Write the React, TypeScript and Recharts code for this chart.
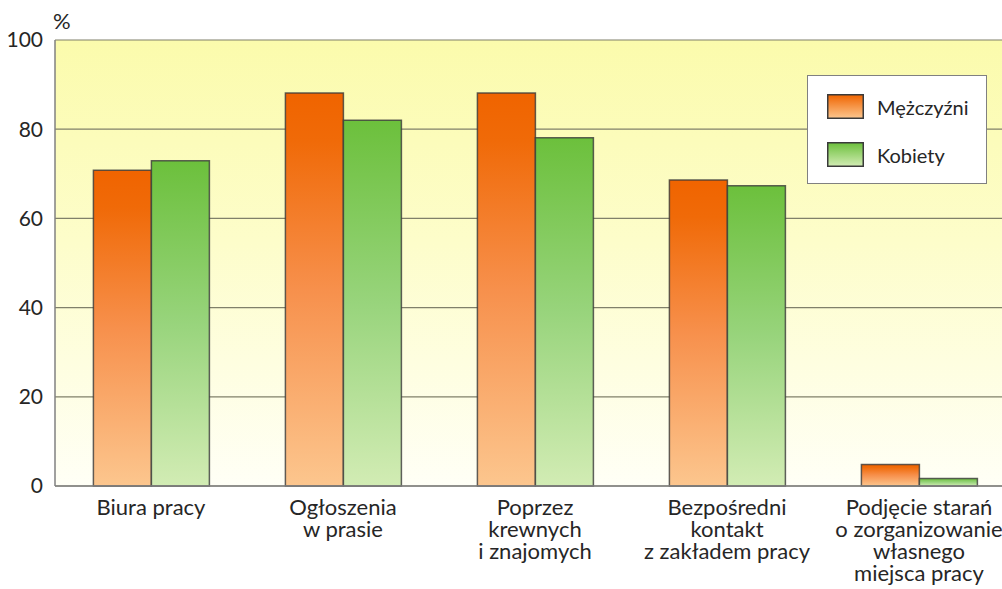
import React from 'react';
import { Bar, BarChart, CartesianGrid, XAxis, YAxis } from 'recharts';

// categories (x-axis labels, split into lines)
const categories = [
  ['Biura pracy'],
  ['Ogłoszenia', 'w prasie'],
  ['Poprzez', 'krewnych', 'i znajomych'],
  ['Bezpośredni', 'kontakt', 'z zakładem pracy'],
  ['Podjęcie starań', 'o zorganizowanie', 'własnego', 'miejsca pracy'],
];

const men = [70.8, 88.1, 88.1, 68.6, 4.8];
const women = [72.9, 82.0, 78.1, 67.3, 1.7];

const yTicks = [0, 20, 40, 60, 80, 100];

const series = [
  { key: 'men', name: 'Mężczyźni', grad: 'menGrad' },
  { key: 'women', name: 'Kobiety', grad: 'womenGrad' },
];

const data = categories.map((lines, i) => ({
  label: lines.join('\n'),
  men: men[i],
  women: women[i],
}));

const FONT = 'Lato, "Open Sans", sans-serif';
const TEXT = '#262626';

function CategoryTick(props: any) {
  const { x, y, payload } = props;
  const lines = String(payload.value).split('\n');
  return (
    <text
      x={x}
      y={y + 21}
      textAnchor="middle"
      fill={TEXT}
      fontSize={22}
      fontFamily={FONT}
    >
      {lines.map((line, i) => (
        <tspan key={i} x={x} dy={i === 0 ? 0 : 22}>
          {line}
        </tspan>
      ))}
    </text>
  );
}

export default function App() {
  return (
    <div
      style={{
        position: 'absolute',
        left: 0,
        top: 0,
        width: 1002,
        height: 589,
        overflow: 'hidden',
        background: '#fff',
        fontFamily: FONT,
      }}
    >
      <BarChart
        width={1020}
        height={589}
        data={data}
        margin={{ top: 40, right: 5, left: 0, bottom: 0 }}
        barCategoryGap="20%"
        barGap={0}
      >
        <defs>
          <linearGradient id="bgGrad" x1="0" y1="0" x2="0" y2="1">
            <stop offset="0%" stopColor="#fbfbac" />
            <stop offset="45%" stopColor="#fdfdca" />
            <stop offset="100%" stopColor="#fffff6" />
          </linearGradient>
          <linearGradient id="menGrad" x1="0" y1="0" x2="0" y2="1">
            <stop offset="0%" stopColor="#f06400" />
            <stop offset="12%" stopColor="#f06a08" />
            <stop offset="50%" stopColor="#f7904c" />
            <stop offset="100%" stopColor="#fcc68e" />
          </linearGradient>
          <linearGradient id="womenGrad" x1="0" y1="0" x2="0" y2="1">
            <stop offset="0%" stopColor="#6cc03c" />
            <stop offset="50%" stopColor="#98d47c" />
            <stop offset="100%" stopColor="#d2ecb4" />
          </linearGradient>
        </defs>
        <CartesianGrid
          vertical={false}
          stroke="#80806a"
          strokeWidth={1.2}
          fill="url(#bgGrad)"
          fillOpacity={1}
        />
        <XAxis
          dataKey="label"
          height={103}
          axisLine={{ stroke: '#808080', strokeWidth: 1.5 }}
          tickLine={false}
          interval={0}
          tick={<CategoryTick />}
        />
        <YAxis
          domain={[0, 100]}
          ticks={yTicks}
          width={55}
          axisLine={{ stroke: '#808080', strokeWidth: 1.5 }}
          tickLine={false}
          tickSize={0}
          tickMargin={12}
          tick={{ fill: TEXT, fontSize: 21, fontFamily: FONT }}
        />
        {series.map((s) => (
          <Bar
            key={s.key}
            dataKey={s.key}
            name={s.name}
            fill={`url(#${s.grad})`}
            stroke="#3a3a3a"
            strokeOpacity={0.8}
            strokeWidth={1.5}
            isAnimationActive={false}
          />
        ))}
      </BarChart>

      <div
        style={{
          position: 'absolute',
          left: 53,
          top: 7,
          fontSize: 22,
          color: TEXT,
        }}
      >
        %
      </div>

      <div
        style={{
          position: 'absolute',
          left: 807,
          top: 75,
          width: 178,
          height: 107,
          background: '#fff',
          border: '1.5px solid #808080',
          boxSizing: 'content-box',
        }}
      >
        {series.map((s, i) => (
          <div
            key={s.key}
            style={{
              position: 'absolute',
              left: 19,
              top: 18 + i * 48,
              display: 'flex',
              alignItems: 'center',
              height: 25,
            }}
          >
            <svg width={37} height={25} style={{ display: 'block' }}>
              <defs>
                <linearGradient id={`lg${i}`} x1="0" y1="0" x2="0" y2="1">
                  {i === 0 ? (
                    <>
                      <stop offset="0%" stopColor="#f06400" />
                      <stop offset="100%" stopColor="#fcc68e" />
                    </>
                  ) : (
                    <>
                      <stop offset="0%" stopColor="#6cc03c" />
                      <stop offset="100%" stopColor="#d2ecb4" />
                    </>
                  )}
                </linearGradient>
              </defs>
              <rect
                x={0.75}
                y={0.75}
                width={35.5}
                height={23.5}
                fill={`url(#lg${i})`}
                stroke="#3a3a3a"
                strokeWidth={1.5}
              />
            </svg>
            <span style={{ marginLeft: 13, fontSize: 20, color: TEXT }}>
              {s.name}
            </span>
          </div>
        ))}
      </div>
    </div>
  );
}
